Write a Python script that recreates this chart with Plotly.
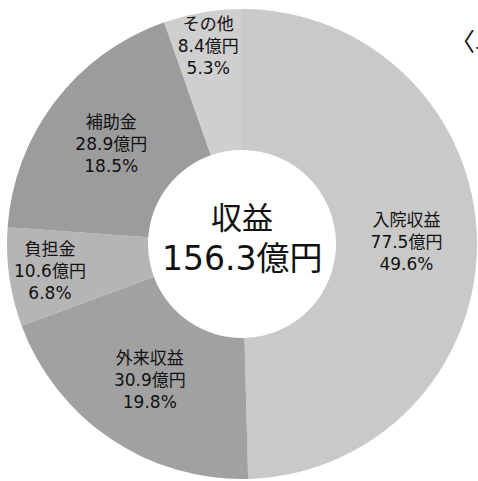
import plotly.graph_objects as go

# Revenue breakdown (unit: 100 million yen)
labels = ["入院収益", "外来収益", "負担金", "補助金", "その他"]
values = [77.5, 30.9, 10.6, 28.9, 8.4]
shares = [49.6, 19.8, 6.8, 18.5, 5.3]  # published shares (%), rounded to total 100
colors = ["#c9c9c9", "#a1a1a1", "#b5b5b5", "#9c9c9c", "#cfcfcf"]

total = sum(values)
W, H = 478, 481
cx, cy, r = 242, 244, 235
FONT = "DejaVu Sans, Noto Sans CJK JP"

fig = go.Figure(
    go.Pie(
        labels=labels,
        values=values,
        customdata=shares,
        sort=False,
        direction="clockwise",
        rotation=0,
        hole=0.40,
        marker=dict(colors=colors, line=dict(width=0)),
        texttemplate="%{label}<br>%{value:.1f}億円<br>%{customdata:.1f}%",
        textposition="inside",
        insidetextorientation="horizontal",
        textfont=dict(family=FONT, size=17, color="#111111"),
        showlegend=False,
        hoverinfo="skip",
        domain=dict(
            x=[max(0, (cx - r) / W), min(1, (cx + r) / W)],
            y=[max(0, (H - cy - r) / H), min(1, (H - cy + r) / H)],
        ),
    )
)

# Centre caption: title and total
fig.add_annotation(
    x=cx / W, y=1 - 218 / H, xref="paper", yref="paper",
    text="収益", showarrow=False,
    font=dict(family=FONT, size=31, color="#111111"),
)
fig.add_annotation(
    x=cx / W, y=1 - 258 / H, xref="paper", yref="paper",
    text=f"{total:.1f}億円", showarrow=False,
    font=dict(family=FONT, size=33, color="#111111"),
)

fig.add_annotation(
    x=448 / W, y=1 - 40 / H, xref="paper", yref="paper",
    xanchor="left", yanchor="middle",
    text="〈単位：億円〉",
    showarrow=False,
    font=dict(family="Noto Sans CJK JP", size=25, color="#111111"),
)

fig.update_layout(
    width=W, height=H,
    margin=dict(l=0, r=0, t=0, b=0),
    paper_bgcolor="white",
    plot_bgcolor="white",
    uniformtext=dict(minsize=17, mode="show"),
)

fig.write_html("out.html")
